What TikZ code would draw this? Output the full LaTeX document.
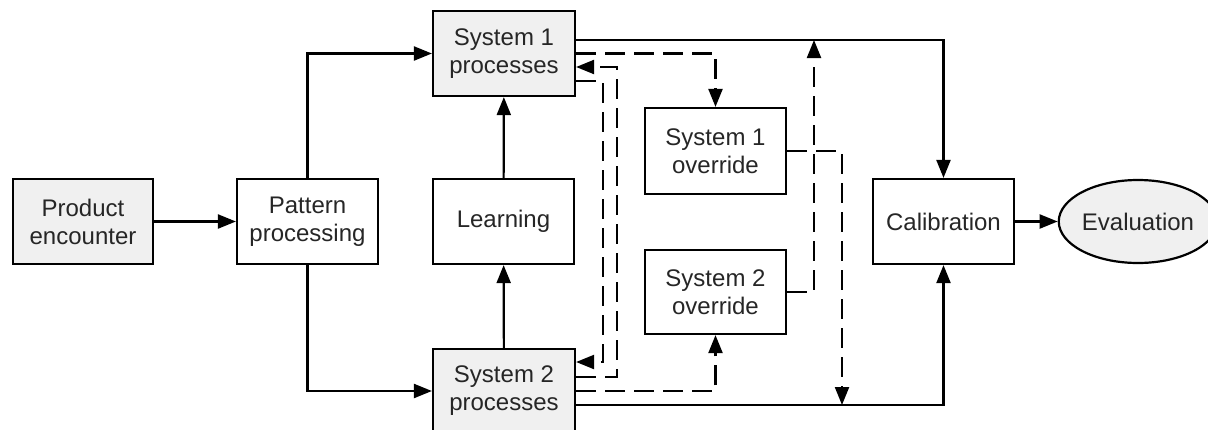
\documentclass[tikz,border=0pt]{standalone}
\usepackage{fontspec}
\setmainfont{Liberation Sans}
\usetikzlibrary{arrows.meta,shapes.geometric}
\definecolor{boxgray}{HTML}{F0F0F0}
\definecolor{txt}{HTML}{262626}
\begin{document}
\begin{tikzpicture}[x=1pt,y=-1pt,
  every node/.style={font=\fontsize{24}{28}\selectfont, text=txt, align=center},
  blk/.style={draw=black, line width=2.2pt, rectangle, inner sep=0pt},
  gblk/.style={blk, fill=boxgray},
  conn/.style={line width=2.2pt, -{Triangle[length=18pt,width=14pt]}},
  dsh/.style={line width=2.2pt, dash pattern=on 20pt off 9pt, -{Triangle[length=18pt,width=14pt]}}
]
\useasboundingbox (0,0) rectangle (1208,429);
\clip (0,0) rectangle (1208,429);

\node[gblk, minimum width=140pt, minimum height=85pt] (pe) at (83,221.5) {Product\\encounter};
\node[blk, minimum width=141pt, minimum height=85pt] (pp) at (307.5,221.5) {Pattern\\processing};
\node[blk, minimum width=141pt, minimum height=85pt] (learn) at (503.5,221.5) {Learning};
\node[gblk, minimum width=142pt, minimum height=85pt] (s1) at (504,53.5) {System 1\\processes};
\node[gblk, minimum width=142pt, minimum height=84pt] (s2) at (504,391) {System 2\\processes};
\node[blk, minimum width=141pt, minimum height=86pt] (o1) at (715.5,151) {System 1\\override};
\node[blk, minimum width=141pt, minimum height=84pt] (o2) at (715.5,292) {System 2\\override};
\node[blk, minimum width=141pt, minimum height=85pt] (cal) at (943.5,221.5) {Calibration};
\node[draw=black, line width=2.2pt, fill=boxgray, ellipse, inner sep=0pt, minimum width=137pt, minimum height=83pt] (ev) at (1138,221.5) {Evaluation};

% helper coordinates on the process boxes
\coordinate (s1a) at ([yshift=13.5pt]s1.east);
\coordinate (s1c) at ([yshift=-13.5pt]s1.east);
\coordinate (s1d) at ([yshift=-27.5pt]s1.east);
\coordinate (s2a) at ([yshift=29pt]s2.east);
\coordinate (s2b) at ([yshift=14pt]s2.east);
\coordinate (s2d) at ([yshift=-14pt]s2.east);
\coordinate (xa) at (814,0);
\coordinate (xb) at (842,0);
\coordinate (xc) at (603,0);
\coordinate (xd) at (617,0);

% solid connectors
\draw[conn] (pe) -- (pp);
\draw[conn] (pp.north) |- (s1.west);
\draw[conn] (pp.south) |- (s2.west);
\draw[conn] (learn) -- (s1);
\draw[conn] (s2) -- (learn);
\draw[conn] (s1a) -| (cal.north);
\draw[conn] (s2d) -| (cal.south);
\draw[conn] (cal) -- (ev);

% dashed connectors
\draw[dsh] (s1.east) -| (o1.north);
\draw[dsh] (s2.east) -| (o2.south);
\draw[dsh] (s1d) -| (xc |- s2a) -- (s2a);
\draw[dsh] (s2b) -| (xd |- s1c) -- (s1c);
\draw[dsh] (o2.east) -| (xa |- s1a);
\draw[dsh] (o1.east) -| (xb |- s2d);
\end{tikzpicture}
\end{document}
